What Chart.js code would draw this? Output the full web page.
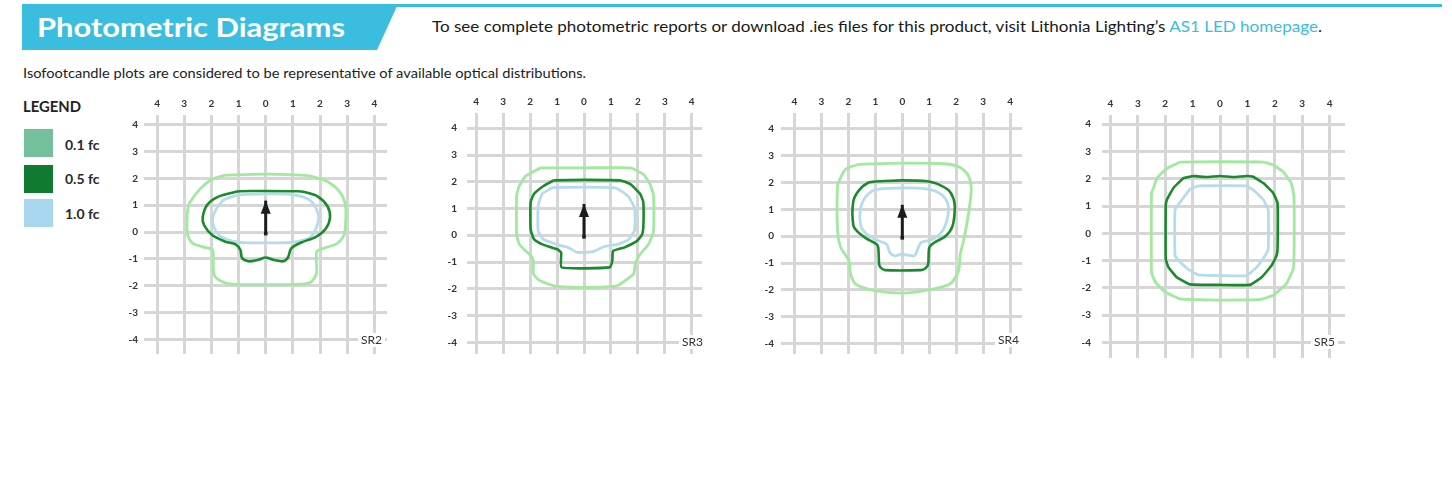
<!DOCTYPE html>
<html>
<head>
<meta charset="utf-8">
<script src="https://cdn.jsdelivr.net/npm/chart.js@4.4.1/dist/chart.umd.min.js"></script>
<style>
  html, body { margin: 0; padding: 0; background: #fff; }
  body { width: 1452px; height: 484px; position: relative; overflow: hidden; font-family: Lato, "Open Sans", sans-serif; color: #222; }
  .abs { position: absolute; white-space: nowrap; }
  .fit { display: inline-block; transform-origin: 0 0; }
  #banner { left: 22px; top: 4px; width: 376px; height: 46px; background: #3bbde0;
            clip-path: polygon(0 0, 100% 0, 355px 100%, 0 100%); }
  #topline { left: 390px; top: 4px; width: 1052px; height: 3px; background: #3bbde0; }
  #title { left: 37px; top: 14px; font-size: 26px; line-height: 26px; font-weight: bold; color: #fff; }
  #intro { left: 432px; top: 19px; font-size: 15px; line-height: 15px; color: #1a1a1a; }
  .link { color: #3bbde0; }
  #sub { left: 23px; top: 66px; font-size: 14px; line-height: 14px; color: #222; }
  #legtitle { left: 23px; top: 99px; font-size: 15px; line-height: 15px; font-weight: bold; color: #222; }
  .swatch { position: absolute; left: 24px; width: 29px; height: 28px; }
  .leglab { position: absolute; left: 65px; font-size: 14px; line-height: 14px; font-weight: bold; color: #2a2a2a; }
  .tag { position: absolute; background: #fff; font-size: 12px; line-height: 14px; padding: 0 3px; color: #333; }
  canvas { position: absolute; }
</style>
</head>
<body>
<div id="banner" class="abs"></div>
<div id="topline" class="abs"></div>
<div id="title" class="abs"><span class="fit" data-w="308">Photometric Diagrams</span></div>
<div id="intro" class="abs"><span class="fit" data-w="890">To see complete photometric reports or download .ies files for this product, visit Lithonia Lighting’s <span class="link">AS1 LED homepage</span>.</span></div>
<div id="sub" class="abs"><span class="fit" data-w="563">Isofootcandle plots are considered to be representative of available optical distributions.</span></div>
<div id="legtitle" class="abs"><span class="fit" data-w="58">LEGEND</span></div>

<script>
// ---- data ----
const levels = ['0.1 fc', '0.5 fc', '1.0 fc'];
const legendColors = ['#74c09c', '#0f7a30', '#a8d7ef'];
const lineColors = ['#a2e89f', '#1a8b2b', '#b6dcec'];
const plotNames = ['SR2', 'SR3', 'SR4', 'SR5'];
const xTicks = [-4, -3, -2, -1, 0, 1, 2, 3, 4];
const yTicks = [-4, -3, -2, -1, 0, 1, 2, 3, 4];
const arrowTail = [0, -0.06];
const arrowTip = [0, 1.17];

const sr2Outer = [[-1.48,2.12],[-0.5,2.15],[0.5,2.15],[1.3,2.12],[1.67,2.08],[2.27,1.88],[2.76,1.45],[2.94,0.97],[2.94,0.3],[2.88,-0.12],[2.64,-0.42],[2.15,-0.6],[1.88,-0.73],[1.88,-1.45],[1.85,-1.6],[1.67,-1.86],[1.3,-1.94],[0,-1.96],[-1.23,-1.94],[-1.66,-1.82],[-1.9,-1.58],[-1.93,-0.97],[-1.96,-0.67],[-2.32,-0.55],[-2.68,-0.42],[-2.87,-0.12],[-2.9,0.4],[-2.87,0.85],[-2.8,1.09],[-2.44,1.58],[-2.0,1.95]];
const sr2Mid = [[-1.0,1.52],[0,1.53],[1.18,1.52],[1.43,1.49],[1.91,1.33],[2.27,0.97],[2.37,0.55],[2.21,0.12],[1.85,-0.18],[1.31,-0.39],[0.94,-0.61],[0.82,-0.95],[0.64,-1.09],[0.28,-1.03],[0,-0.95],[-0.27,-1.03],[-0.63,-1.09],[-0.87,-0.97],[-0.93,-0.67],[-1.11,-0.46],[-1.48,-0.36],[-1.96,-0.12],[-2.26,0.24],[-2.32,0.55],[-2.14,1.03],[-1.72,1.33]];
const sr2Inner = [[-1.0,1.39],[0,1.42],[1.0,1.39],[1.67,1.15],[1.95,0.55],[1.67,-0.18],[1.0,-0.38],[0,-0.4],[-1.0,-0.38],[-1.72,-0.12],[-1.96,0.48],[-1.6,1.15]];

const sr3Outer = [[-1.61,2.52],[0,2.52],[1.72,2.52],[2.2,2.28],[2.45,1.91],[2.58,1.49],[2.58,0.15],[2.39,-0.34],[2.08,-0.71],[1.9,-1.07],[1.84,-1.44],[1.24,-1.88],[0,-1.95],[-1.07,-1.9],[-1.67,-1.68],[-1.88,-1.44],[-1.88,-1.07],[-1.92,-0.83],[-2.16,-0.59],[-2.4,-0.34],[-2.5,0.02],[-2.5,1.49],[-2.4,1.85],[-2.16,2.22]];
const sr3Mid = [[-1.13,2.05],[0,2.07],[1.36,2.05],[1.72,1.91],[2.08,1.55],[2.2,1.24],[2.2,0.27],[2.15,0.02],[1.96,-0.22],[1.48,-0.46],[1.08,-0.59],[1.05,-0.95],[0.95,-1.2],[-0.83,-1.2],[-0.85,-0.65],[-1.0,-0.52],[-1.55,-0.34],[-1.85,-0.16],[-1.98,0.21],[-1.98,1.24],[-1.85,1.55],[-1.49,1.85]];
const sr3Inner = [[-1.19,1.78],[0,1.8],[1.12,1.78],[1.36,1.67],[1.66,1.43],[1.88,1.0],[1.88,0.21],[1.66,-0.16],[1.24,-0.34],[0.75,-0.42],[0.39,-0.59],[0,-0.64],[-0.28,-0.63],[-0.58,-0.46],[-1.0,-0.34],[-1.49,-0.16],[-1.7,0.15],[-1.7,1.12],[-1.55,1.55]];

const sr4Outer = [[-1.61,2.68],[0,2.72],[1.55,2.7],[2.15,2.56],[2.45,2.26],[2.56,1.77],[2.45,0.79],[2.27,-0.18],[2.15,-0.67],[2.09,-1.28],[1.78,-1.77],[0.93,-2.01],[0,-2.12],[-1.13,-2.01],[-1.74,-1.77],[-1.92,-1.4],[-1.98,-0.91],[-2.28,-0.43],[-2.4,0.18],[-2.4,1.89],[-2.28,2.2],[-2.1,2.5]];
const sr4Mid = [[-0.89,2.05],[0,2.08],[0.93,2.05],[1.3,1.95],[1.72,1.71],[1.9,1.4],[1.95,1.04],[1.86,0.37],[1.6,0],[1.18,-0.24],[1.0,-0.43],[0.96,-1.04],[0.85,-1.2],[0.69,-1.26],[-0.64,-1.26],[-0.82,-1.15],[-0.86,-1.04],[-0.89,-0.43],[-0.95,-0.3],[-1.37,-0.06],[-1.67,0.18],[-1.82,0.43],[-1.82,1.28],[-1.61,1.71],[-1.25,2.0]];
const sr4Inner = [[-0.76,1.77],[0.15,1.8],[0.81,1.77],[1.3,1.65],[1.6,1.4],[1.72,1.04],[1.64,0.55],[1.48,0.18],[1.12,-0.12],[0.69,-0.24],[0.57,-0.49],[0.45,-0.73],[0.21,-0.7],[-0.04,-0.67],[-0.28,-0.73],[-0.46,-0.61],[-0.58,-0.3],[-1.0,-0.12],[-1.37,0.12],[-1.55,0.43],[-1.55,1.04],[-1.37,1.46],[-1.07,1.71]];

const sr5Outer = [[-1.45,2.61],[0,2.62],[1.58,2.61],[1.94,2.5],[2.3,2.26],[2.6,1.84],[2.7,1.35],[2.7,-0.94],[2.67,-1.31],[2.42,-1.85],[1.94,-2.27],[1.5,-2.42],[0,-2.45],[-1.45,-2.4],[-2.0,-2.15],[-2.36,-1.79],[-2.5,-1.43],[-2.5,1.48],[-2.45,1.6],[-2.3,2.02],[-1.94,2.38]];
const sr5Mid = [[-0.97,2.1],[-0.5,2.06],[0,2.1],[0.5,2.06],[0.97,2.1],[1.21,2.07],[1.58,1.84],[1.94,1.48],[2.1,1.11],[2.1,-0.58],[2.06,-0.82],[1.88,-1.18],[1.52,-1.61],[1.09,-1.89],[0,-1.89],[-1.09,-1.87],[-1.58,-1.61],[-1.88,-1.25],[-1.98,-0.94],[-1.98,0.99],[-1.94,1.23],[-1.7,1.66],[-1.33,2.02]];
const sr5Inner = [[-0.79,1.74],[0.97,1.74],[1.27,1.54],[1.58,1.23],[1.76,0.87],[1.76,-0.58],[1.64,-0.82],[1.33,-1.25],[0.97,-1.55],[-0.79,-1.52],[-1.09,-1.37],[-1.45,-1.06],[-1.64,-0.82],[-1.64,0.87],[-1.39,1.23],[-1.09,1.62]];

const contours = [
  [sr2Outer, sr2Mid, sr2Inner],
  [sr3Outer, sr3Mid, sr3Inner],
  [sr4Outer, sr4Mid, sr4Inner],
  [sr5Outer, sr5Mid, sr5Inner]
];
const hasArrow = [true, true, true, false];
const smooth = [0.3, 0.15, 0.25, 0.1];

// ---- layout (pixels on the page) ----
const frames = [
  { x0: 267.7, y0: 234.0, ux: 27.6, uy: 27.3, left: 144, right: 391, top: 115, bottom: 358, ypad: 6, tag: [358, 333] },
  { x0: 586.0, y0: 237.3, ux: 27.4, uy: 27.2, left: 467, right: 706, top: 113, bottom: 358, ypad: 10, tag: [679, 335] },
  { x0: 904.3, y0: 238.3, ux: 27.4, uy: 27.3, left: 781, right: 1026, top: 113, bottom: 358, ypad: 7, tag: [995, 333] },
  { x0: 1220.0, y0: 233.3, ux: 27.4, uy: 27.3, left: 1102, right: 1345, top: 115, bottom: 358, ypad: 11, tag: [1311, 335] }
];

// legend
levels.forEach((lab, i) => {
  const sw = document.createElement('div');
  sw.className = 'swatch';
  sw.style.top = [129, 165, 199][i] + 'px';
  sw.style.background = legendColors[i];
  document.body.appendChild(sw);
  const t = document.createElement('div');
  t.className = 'leglab';
  t.style.top = [138, 172, 207][i] + 'px';
  t.textContent = lab;
  document.body.appendChild(t);
});

const arrowHead = {
  id: 'arrowHead',
  afterDatasetsDraw(chart) {
    chart.data.datasets.forEach((ds, i) => {
      if (!ds.isArrow) return;
      const pts = chart.getDatasetMeta(i).data;
      const a = pts[0], b = pts[pts.length - 1];
      const ang = Math.atan2(b.y - a.y, b.x - a.x);
      const len = 13, half = 5;
      const ctx = chart.ctx;
      ctx.save();
      ctx.fillStyle = ds.borderColor;
      ctx.beginPath();
      ctx.moveTo(b.x, b.y);
      ctx.lineTo(b.x - len * Math.cos(ang) - half * Math.sin(ang), b.y - len * Math.sin(ang) + half * Math.cos(ang));
      ctx.lineTo(b.x - len * Math.cos(ang) + half * Math.sin(ang), b.y - len * Math.sin(ang) - half * Math.cos(ang));
      ctx.closePath();
      ctx.fill();
      ctx.restore();
    });
  }
};

const AXW = 40, AXH = 24;
const tickFont = { family: 'Lato', weight: 'bold', size: 10 };

// keep the plot area exactly where the frame says
function noPad(s) {
  s.paddingTop = 0; s.paddingBottom = 0; s.paddingLeft = 0; s.paddingRight = 0;
}

function makeChart(f, k) {
  const left = Math.round(f.left), top = Math.round(f.top);
  const w = Math.round(f.right) - left, h = Math.round(f.bottom) - top;
  const cv = document.createElement('canvas');
  cv.width = w + AXW; cv.height = h + AXH;
  cv.style.left = (left - AXW) + 'px';
  cv.style.top = (top - AXH) + 'px';
  document.body.appendChild(cv);

  const datasets = contours[k].map((pts, i) => ({
    label: levels[i],
    data: pts.concat([pts[0]]).map(([x, y]) => ({ x, y })),
    showLine: true,
    pointRadius: 0,
    borderColor: lineColors[i],
    borderWidth: i === 1 ? 2.6 : 2.8,
    borderJoinStyle: 'round',
    tension: smooth[k],
    fill: false
  }));
  if (hasArrow[k]) {
    datasets.push({
      label: 'aim',
      data: [arrowTail, arrowTip].map(([x, y]) => ({ x, y })),
      showLine: true,
      isArrow: true,
      borderColor: '#1c1c1c',
      borderWidth: 3,
      pointRadius: [2.5, 0],
      pointStyle: 'rect',
      pointBackgroundColor: '#1c1c1c',
      pointBorderWidth: 0
    });
  }

  new Chart(cv, {
    type: 'scatter',
    data: { datasets },
    options: {
      responsive: false,
      animation: false,
      events: [],
      layout: { padding: 0 },
      plugins: { legend: { display: false }, tooltip: { enabled: false } },
      scales: {
        x: {
          type: 'linear', position: 'top',
          min: (left - f.x0) / f.ux, max: (left + w - f.x0) / f.ux,
          afterBuildTicks: s => { s.ticks = xTicks.map(v => ({ value: v })); },
          afterFit: s => { s.height = AXH; noPad(s); },
          grid: { color: '#d6d6d6', lineWidth: 3, drawTicks: false },
          border: { display: false },
          ticks: { font: tickFont, color: '#333', padding: 5, maxRotation: 0, autoSkip: false,
                   callback: v => String(Math.abs(v)) }
        },
        y: {
          type: 'linear', position: 'left',
          min: (f.y0 - top - h) / f.uy, max: (f.y0 - top) / f.uy,
          afterBuildTicks: s => { s.ticks = yTicks.map(v => ({ value: v })); },
          afterFit: s => { s.width = AXW; noPad(s); },
          grid: { color: '#d6d6d6', lineWidth: 3, drawTicks: false },
          border: { display: false },
          ticks: { font: tickFont, color: '#333', padding: f.ypad, autoSkip: false,
                   callback: v => String(v) }
        }
      }
    },
    plugins: [arrowHead]
  });

  const tag = document.createElement('div');
  tag.className = 'tag';
  tag.style.left = f.tag[0] + 'px';
  tag.style.top = f.tag[1] + 'px';
  tag.textContent = plotNames[k];
  document.body.appendChild(tag);
}

frames.forEach(makeChart);

document.querySelectorAll('.fit').forEach(el => {
  const r = el.getBoundingClientRect().width;
  el.style.transform = 'scaleX(' + (Number(el.dataset.w) / r) + ')';
});
</script>
</body>
</html>
